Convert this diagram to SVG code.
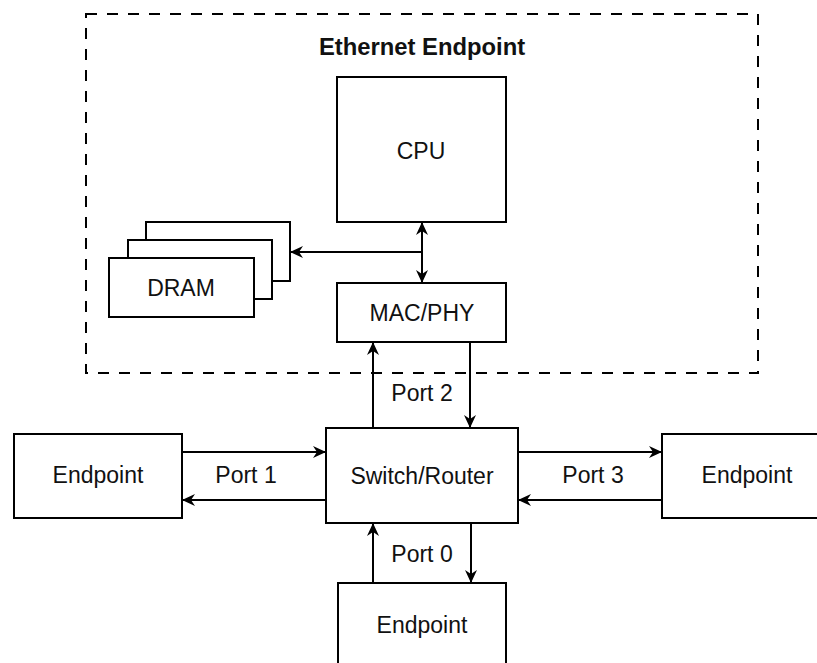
<svg xmlns="http://www.w3.org/2000/svg" width="817" height="663" viewBox="0 0 817 663">
  <style>
    .box { fill: #ffffff; stroke: #000000; stroke-width: 2; }
    .frame { fill: none; stroke: #000000; stroke-width: 2; stroke-dasharray: 11 10; }
    .wire { fill: none; stroke: #000000; stroke-width: 2; }
    .label { font-family: "Liberation Sans", Arial, Helvetica, sans-serif; font-size: 23px; fill: #111111; text-anchor: middle; }
    .title { font-family: "Liberation Sans", Arial, Helvetica, sans-serif; font-size: 23.8px; font-weight: bold; fill: #111111; text-anchor: middle; }
  </style>
  <defs>
    <marker id="arrow" markerUnits="userSpaceOnUse" markerWidth="14" markerHeight="12" refX="13" refY="6" orient="auto-start-reverse" viewBox="0 0 14 12">
      <path d="M0,0 L13,6 L0,12 L4,6 Z" fill="#000000"/>
    </marker>
  </defs>

  <rect width="817" height="663" fill="#ffffff"/>

  <!-- Ethernet endpoint boundary -->
  <g id="ethernet-endpoint">
    <rect class="frame" x="86" y="14" width="672" height="359"/>
    <text class="title" x="422" y="55">Ethernet Endpoint</text>
  </g>

  <g id="cpu">
    <rect class="box" x="337" y="77" width="169" height="145"/>
    <text class="label" x="421" y="159">CPU</text>
  </g>

  <g id="dram">
    <rect class="box" x="146" y="222" width="144" height="59"/>
    <rect class="box" x="128" y="240" width="144" height="59"/>
    <rect class="box" x="109" y="258" width="145" height="59"/>
    <text class="label" x="181" y="296">DRAM</text>
  </g>

  <g id="mac-phy">
    <rect class="box" x="337" y="283" width="169" height="59"/>
    <text class="label" x="422" y="321">MAC/PHY</text>
  </g>

  <g id="switch-router">
    <rect class="box" x="326" y="428" width="192" height="95"/>
    <text class="label" x="422" y="484">Switch/Router</text>
  </g>

  <g id="endpoint-left">
    <rect class="box" x="14" y="434" width="168" height="84"/>
    <text class="label" x="98" y="483">Endpoint</text>
  </g>

  <g id="endpoint-right">
    <rect class="box" x="662" y="434" width="168" height="84"/>
    <text class="label" x="747" y="483">Endpoint</text>
  </g>

  <g id="endpoint-bottom">
    <rect class="box" x="338" y="583" width="168" height="100"/>
    <text class="label" x="422" y="633">Endpoint</text>
  </g>

  <!-- Connectors -->
  <g id="connectors">
    <line class="wire" x1="422" y1="222" x2="422" y2="283" marker-start="url(#arrow)" marker-end="url(#arrow)"/>
    <line class="wire" x1="422" y1="252" x2="290" y2="252" marker-end="url(#arrow)"/>

    <line class="wire" x1="373" y1="428" x2="373" y2="342" marker-end="url(#arrow)"/>
    <line class="wire" x1="470" y1="342" x2="470" y2="428" marker-end="url(#arrow)"/>

    <line class="wire" x1="182" y1="452" x2="326" y2="452" marker-end="url(#arrow)"/>
    <line class="wire" x1="326" y1="500" x2="182" y2="500" marker-end="url(#arrow)"/>

    <line class="wire" x1="518" y1="452" x2="662" y2="452" marker-end="url(#arrow)"/>
    <line class="wire" x1="662" y1="500" x2="518" y2="500" marker-end="url(#arrow)"/>

    <line class="wire" x1="373" y1="583" x2="373" y2="523" marker-end="url(#arrow)"/>
    <line class="wire" x1="471" y1="523" x2="471" y2="583" marker-end="url(#arrow)"/>
  </g>

  <!-- Port labels -->
  <g id="port-labels">
    <text class="label" x="422" y="401">Port 2</text>
    <text class="label" x="246" y="483">Port 1</text>
    <text class="label" x="593" y="483">Port 3</text>
    <text class="label" x="422" y="562">Port 0</text>
  </g>
</svg>
